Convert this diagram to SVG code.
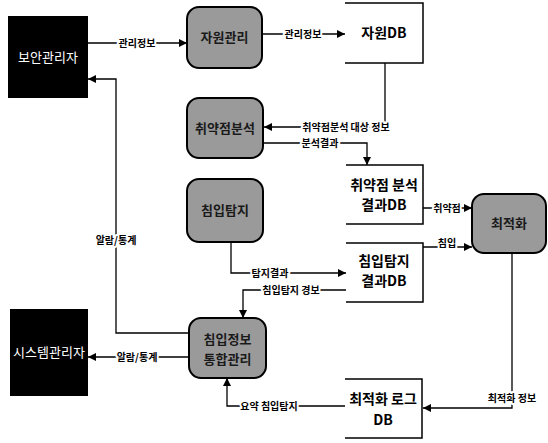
<svg xmlns="http://www.w3.org/2000/svg" width="548" height="443" viewBox="0 0 548 443">
<defs>
<marker id="arr" viewBox="0 0 10 10" refX="10" refY="5" markerWidth="9" markerHeight="8" orient="auto" markerUnits="userSpaceOnUse">
<path d="M0,0 L10,5 L0,10 z" fill="#000"/>
</marker>
</defs>
<style>
.ext{fill:#000}
.extt{fill:#fff;font-family:"Noto Sans CJK KR",sans-serif;font-size:13px;text-anchor:middle}
.proc{fill:#9a9a9a;stroke:#000;stroke-width:2}
.proct{fill:#1a1a1a;font-family:"Noto Sans CJK KR",sans-serif;font-size:13px;font-weight:bold;text-anchor:middle}
.store{fill:none;stroke:#000;stroke-width:1.5}
.storet{fill:#000;font-family:"Noto Sans CJK KR",sans-serif;font-size:14px;font-weight:bold;text-anchor:middle}
.ln{fill:none;stroke:#000;stroke-width:1.3}
.lbl{fill:#000;font-family:"Noto Sans CJK KR",sans-serif;font-size:10px;font-weight:bold;text-anchor:middle;stroke:#fff;stroke-width:4;paint-order:stroke;stroke-linejoin:round}
</style>
<rect width="548" height="443" fill="#fff"/>

<g id="connectors">
<path class="ln" d="M88,43 H187" marker-end="url(#arr)"/>
<path class="ln" d="M262,34 H345" marker-end="url(#arr)"/>
<path class="ln" d="M385,63 V127 H264" marker-end="url(#arr)"/>
<path class="ln" d="M263,143 H367 V165" marker-end="url(#arr)"/>
<path class="ln" d="M423,208 H472" marker-end="url(#arr)"/>
<path class="ln" d="M423,247 H472" marker-end="url(#arr)"/>
<path class="ln" d="M231,242 V273 H346" marker-end="url(#arr)"/>
<path class="ln" d="M346,290 H243 V318" marker-end="url(#arr)"/>
<path class="ln" d="M512,253 V408 H423" marker-end="url(#arr)"/>
<path class="ln" d="M345,406 H227 V378" marker-end="url(#arr)"/>
<path class="ln" d="M189,357 H88" marker-end="url(#arr)"/>
<path class="ln" d="M189,333 H116 V79 H88" marker-end="url(#arr)"/>
<text class="lbl" x="137" y="47">관리정보</text>
<text class="lbl" x="303" y="38">관리정보</text>
<text class="lbl" x="346" y="131">취약점분석 대상 정보</text>
<text class="lbl" x="320" y="147">분석결과</text>
<text class="lbl" x="447" y="212">취약점</text>
<text class="lbl" x="447" y="247">침입</text>
<text class="lbl" x="270" y="277">탐지결과</text>
<text class="lbl" x="291" y="294">침입탐지 경보</text>
<text class="lbl" x="512" y="402">최적화 정보</text>
<text class="lbl" x="269" y="410">요약 침입탐지</text>
<text class="lbl" x="137" y="361">알람/통계</text>
<text class="lbl" x="116" y="244">알람/통계</text>
</g>

<g id="n-security-admin">
<rect class="ext" x="8" y="16" width="80" height="82"/>
<text class="extt" x="48" y="62">보안관리자</text>
</g>
<g id="n-system-admin">
<rect class="ext" x="10" y="309" width="78" height="87"/>
<text class="extt" x="49" y="357">시스템관리자</text>
</g>
<g id="n-resource-mgmt">
<rect class="proc" x="187" y="7" width="75" height="61" rx="12"/>
<text class="proct" x="224.5" y="42">자원관리</text>
</g>
<g id="n-vuln-analysis">
<rect class="proc" x="187" y="98" width="76" height="60" rx="12"/>
<text class="proct" x="225" y="133">취약점분석</text>
</g>
<g id="n-intrusion-detect">
<rect class="proc" x="187" y="179" width="76" height="63" rx="12"/>
<text class="proct" x="225" y="215">침입탐지</text>
</g>
<g id="n-intrusion-integ">
<rect class="proc" x="189" y="318" width="77" height="60" rx="12"/>
<text class="proct" x="227.5" y="344">침입정보</text>
<text class="proct" x="227.5" y="364">통합관리</text>
</g>
<g id="n-optimize">
<rect class="proc" x="472" y="194" width="74" height="59" rx="12"/>
<text class="proct" x="509" y="228">최적화</text>
</g>
<g id="n-resource-db">
<path class="store" d="M345,3 H423 V63 H345"/>
<text class="storet" x="384" y="38">자원DB</text>
</g>
<g id="n-vuln-db">
<path class="store" d="M346,165 H423 V224 H346"/>
<text class="storet" x="384" y="190">취약점 분석</text>
<text class="storet" x="384" y="210">결과DB</text>
</g>
<g id="n-intrusion-db">
<path class="store" d="M346,243 H423 V302 H346"/>
<text class="storet" x="384" y="266">침입탐지</text>
<text class="storet" x="384" y="286">결과DB</text>
</g>
<g id="n-opt-log-db">
<path class="store" d="M345,379 H422 V438 H345"/>
<text class="storet" x="383" y="404">최적화 로그</text>
<text class="storet" x="383" y="425">DB</text>
</g>
</svg>
